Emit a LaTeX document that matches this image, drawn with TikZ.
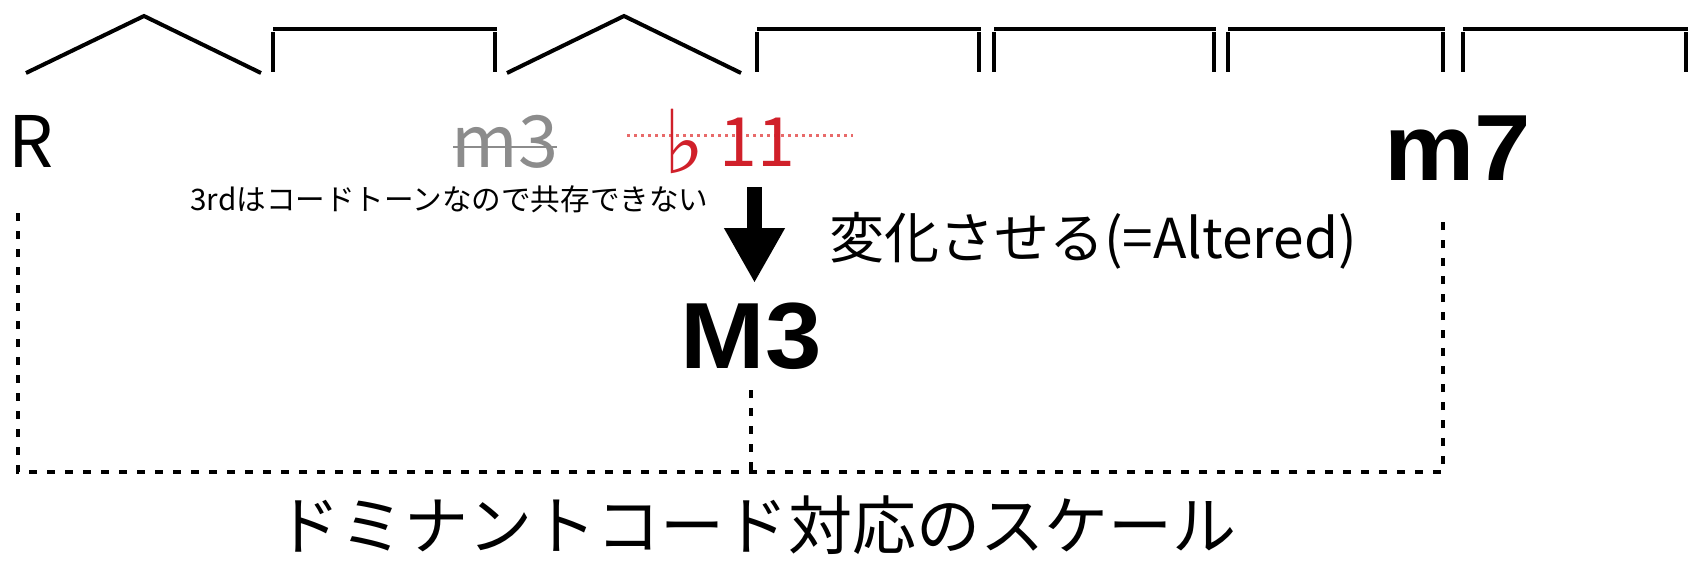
\documentclass[tikz,border=0pt]{standalone}
\usepackage{fontspec}
\setmainfont{Noto Sans CJK JP}
\newfontfamily\hb[FakeStretch=1.08]{Liberation Sans}
\newfontfamily\djv{DejaVu Sans}
\usetikzlibrary{arrows.meta}
\definecolor{gr}{HTML}{8C8C8C}
\definecolor{rd}{HTML}{D0202A}
\definecolor{pk}{HTML}{E86A6A}
\tikzset{
  scl/.style={line width=4pt},
  dotl/.style={line width=4pt, dash pattern=on 8pt off 10pt},
  lbl/.style={inner sep=0pt, anchor=center},
}
\newcommand{\fs}[1]{\fontsize{#1}{#1}\selectfont}
\begin{document}
\begin{tikzpicture}[x=1pt,y=-1pt]
\useasboundingbox (0,0) rectangle (1700,560);
% top scale strip
\draw[scl] (26,73) -- (144,16) -- (261,73);
\draw[scl] (507,73) -- (624,16) -- (741,73);
\foreach \l/\r in {273/495, 757/979, 994/1214, 1228/1443, 1463/1686}{
  \draw[scl] (\l,28.5) -- (\r+2,28.5);
  \draw[scl] (\l,32) -- (\l,72);
  \draw[scl] (\r,32) -- (\r,72);
}
% red dotted line
\coordinate (rdA) at (627,135);
\coordinate (rdB) at (853,135);
\draw[pk, line width=3pt, dash pattern=on 3pt off 4pt] (rdA) -- (rdB);
% labels
\node[lbl] (R) at (31,141) {\fs{71}R};
\node[lbl, text=gr] (m3) at (505,142) {\fs{72}m3};
\coordinate (stA) at (453,147);
\coordinate (stB) at (557,147);
\draw[gr, line width=1.6pt] (stA) -- (stB);
\node[lbl, text=rd] (flat) at (684,141.5) {\djv\fs{88}♭};
\node[lbl, text=rd] (eleven) at (757.5,142) {\fs{68}11};
\node[lbl] (note) at (449.5,199.5) {\fs{29.6}3rdはコードトーンなので共存できない};
\node[lbl] (alt) at (1093,241) {\fs{55}変化させる(=Altered)};
\node[lbl] (M3) at (751,336.5) {\hb\bfseries\fs{94}M3};
\node[lbl] (m7) at (1458,148.5) {\hb\bfseries\fs{94}m7};
\node[lbl] (title) at (756,525) {\fs{64}ドミナントコード対応のスケール};
% arrow
\coordinate (arA) at (754.5,187);
\coordinate (arB) at (754.5,283);
\draw[line width=15pt, -{Triangle[width=57pt,length=55pt]}] (arA) -- (arB);
% dotted bracket
\coordinate (dL) at (18,213);
\coordinate (dR) at (1443,213);
\coordinate (dM) at (751,390);
\draw[dotl] (dL) |- (dR |- 0,472) -- (dR);
\draw[dotl] (dM) -- (dM |- 0,472);
\end{tikzpicture}
\end{document}
